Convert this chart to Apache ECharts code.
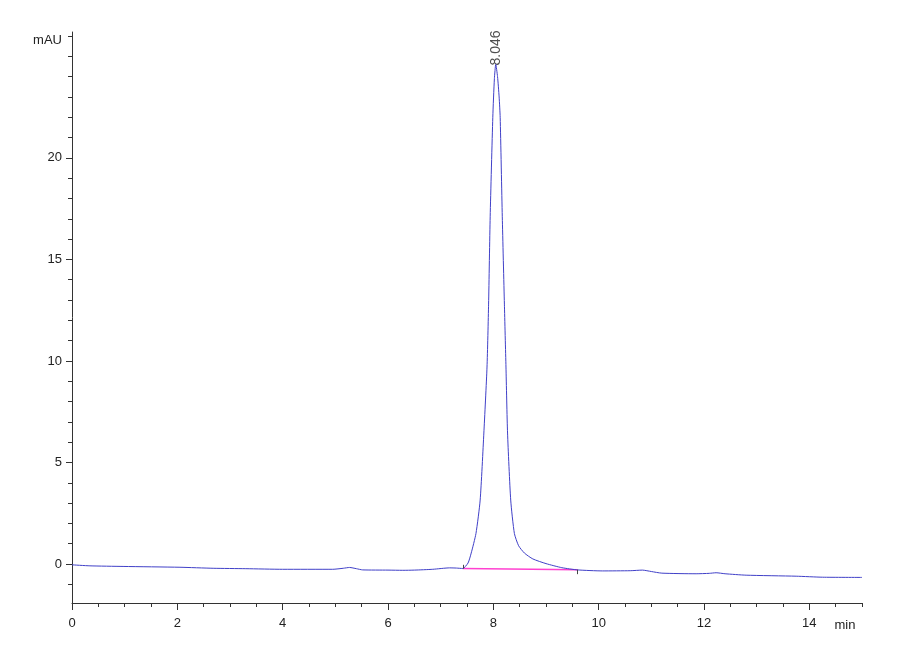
<!DOCTYPE html>
<html>
<head>
<meta charset="utf-8">
<script src="https://cdn.jsdelivr.net/npm/echarts@6/dist/echarts.min.js"></script>
<style>
  html, body { margin: 0; padding: 0; background: #fff; }
  #main { width: 900px; height: 660px; }
</style>
</head>
<body>
<div id="main"></div>
<script>
// retention time (min) and signal (mAU)
var times = [0, 0.34, 0.97, 2.05, 2.68, 3.3, 4.0, 4.95, 5.15, 5.27, 5.4, 5.52, 6.0, 6.28, 6.5, 6.85, 7.17, 7.3, 7.42,
    7.52, 7.58, 7.67, 7.75, 7.82, 7.88, 7.91, 7.94, 7.99, 8.02, 8.046, 8.08, 8.11, 8.13, 8.17, 8.21, 8.24, 8.27,
    8.33, 8.40, 8.48, 8.59, 8.75, 9.0, 9.3, 9.6, 10.07, 10.6, 10.83, 11.0, 11.2, 11.85, 12.1, 12.23, 12.4, 12.8,
    13.75, 14.25, 15];
var signal = [-0.04, -0.09, -0.12, -0.16, -0.21, -0.23, -0.26, -0.26, -0.21, -0.17, -0.23, -0.29, -0.30, -0.31, -0.30, -0.26, -0.19, -0.20, -0.22,
    0.05, 0.54, 1.5, 3.15, 6.45, 9.7, 12.8, 17.1, 22.0, 23.9, 24.6, 24.0, 23.0, 22.0, 17.1, 12.8, 9.7, 6.45,
    3.15, 1.5, 0.9, 0.54, 0.25, 0.02, -0.18, -0.29, -0.34, -0.33, -0.30, -0.37, -0.45, -0.48, -0.46, -0.43, -0.48, -0.55,
    -0.60, -0.65, -0.66];

// integration baseline of the peak
var baseTimes = [7.42, 9.6];
var baseValues = [-0.22, -0.28];
var peakTime = 8.046;
var peakHeight = 24.6;

var xMajorTicks = [0, 2, 4, 6, 8, 10, 12, 14];
var xMinorTicks = [0.5, 1, 1.5, 2.5, 3, 3.5, 4.5, 5, 5.5, 6.5, 7, 7.5, 8.5, 9, 9.5, 10.5, 11, 11.5, 12.5, 13, 13.5, 14.5, 15];
var yMajorTicks = [0, 5, 10, 15, 20];
var yMinorTicks = [-1, 1, 2, 3, 4, 6, 7, 8, 9, 11, 12, 13, 14, 16, 17, 18, 19, 21, 22, 23, 24, 25, 26];

var trace = times.map(function (t, i) { return [t, signal[i]]; });
var baseline = baseTimes.map(function (t, i) { return [t, baseValues[i]]; });

var font = '"Liberation Sans Narrow", "Liberation Sans", Arial, sans-serif';
var axisColor = '#333';

var myChart = echarts.init(document.getElementById('main'));

function xAxisDef(ticks, len, labels) {
    return {
        type: 'value', min: 0, max: 15,
        position: 'bottom',
        axisLine: { show: labels, onZero: false, lineStyle: { color: axisColor, width: 1 } },
        axisTick: { show: true, inside: false, length: len, customValues: ticks, lineStyle: { color: axisColor } },
        axisLabel: { show: labels, customValues: ticks, color: '#222', fontSize: 13, fontFamily: font, margin: 14 },
        splitLine: { show: false },
        name: labels ? 'min' : '',
        nameLocation: 'end',
        nameGap: -17,
        nameTextStyle: { color: '#222', fontSize: 13, fontFamily: font, align: 'center', verticalAlign: 'top', padding: [16, 0, 0, 0] }
    };
}

function yAxisDef(ticks, len, labels) {
    return {
        type: 'value', min: -1.92, max: 26.2,
        position: 'left',
        axisLine: { show: labels, onZero: false, lineStyle: { color: axisColor, width: 1 } },
        axisTick: { show: true, inside: false, length: len, customValues: ticks, lineStyle: { color: axisColor } },
        axisLabel: { show: labels, customValues: ticks, color: '#222', fontSize: 13, fontFamily: font, margin: 10 },
        splitLine: { show: false },
        name: labels ? 'mAU' : '',
        nameLocation: 'end',
        nameGap: -8,
        nameTextStyle: { color: '#222', fontSize: 13, fontFamily: font, align: 'right', verticalAlign: 'middle', padding: [0, 10, 0, 0] }
    };
}

var option = {
    backgroundColor: '#fff',
    animation: false,
    grid: { left: 72, right: 38, top: 32, bottom: 57 },
    xAxis: [xAxisDef(xMajorTicks, 7, true), xAxisDef(xMinorTicks, 4, false)],
    yAxis: [yAxisDef(yMajorTicks, 6, true), yAxisDef(yMinorTicks, 4, false)],
    series: [
        {
            type: 'line',
            data: baseline,
            showSymbol: false,
            lineStyle: { color: '#ff40d0', width: 1.5 },
            markLine: {
                silent: true,
                symbol: 'none',
                label: { show: false },
                lineStyle: { color: '#444', width: 1, type: 'solid' },
                data: [
                    [{ coord: [baseTimes[0], baseValues[0] + 0.18] }, { coord: [baseTimes[0], baseValues[0]] }],
                    [{ coord: [baseTimes[1], baseValues[1]] }, { coord: [baseTimes[1], baseValues[1] - 0.22] }]
                ]
            }
        },
        {
            type: 'line',
            data: trace,
            showSymbol: false,
            smooth: 0.2,
            lineStyle: { color: '#4040c8', width: 1 }
        },
        {
            type: 'scatter',
            data: [[peakTime, peakHeight]],
            symbolSize: 0,
            label: {
                show: true,
                formatter: String(peakTime.toFixed(3)),
                position: 'top',
                distance: -1,
                rotate: 90,
                align: 'left',
                verticalAlign: 'middle',
                color: '#222',
                fontSize: 14,
                fontFamily: font
            }
        }
    ]
};

myChart.setOption(option);
</script>
</body>
</html>
